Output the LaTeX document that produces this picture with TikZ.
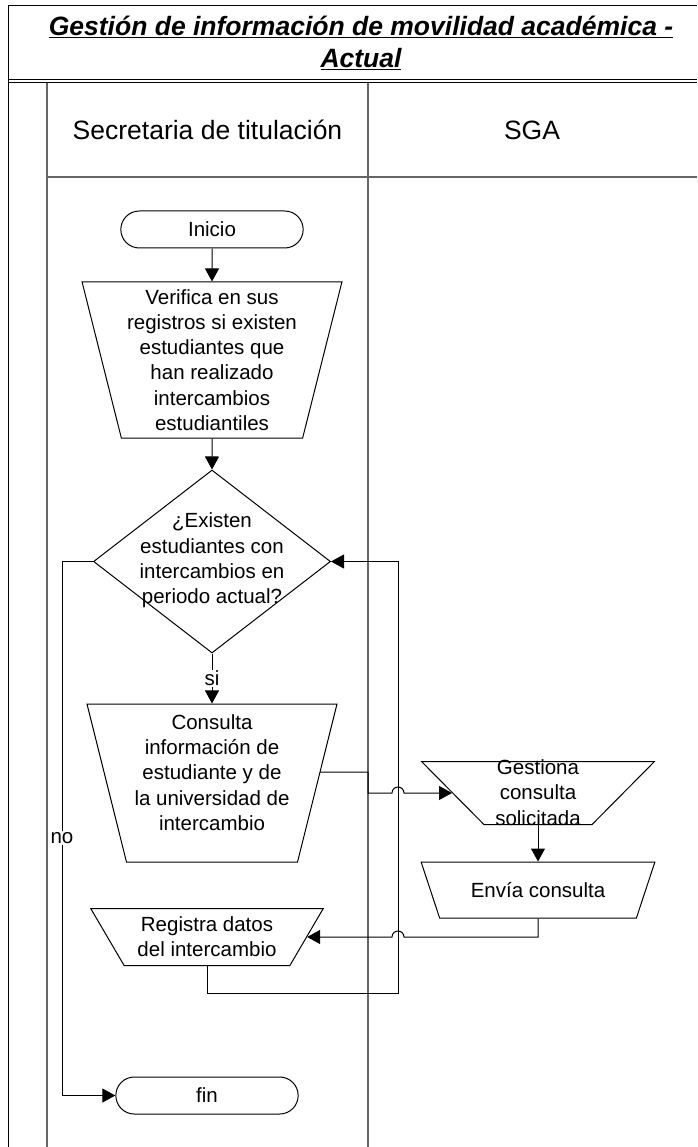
\documentclass[tikz,border=0pt]{standalone}
\usepackage{fontspec}
\setmainfont{Liberation Sans}
\usetikzlibrary{shapes,arrows.meta,positioning,calc}

\begin{document}
\begin{tikzpicture}[x=1pt,y=-1pt,
    texto/.style={font=\fontsize{20.5}{25.3}\selectfont,align=center},
    terminal/.style={draw,fill=white,rounded rectangle,texto,line width=1pt,minimum width=189,minimum height=37},
    proceso/.style={draw,fill=white,trapezium,shape border rotate=180,trapezium stretches=true,texto,line width=1pt,inner sep=2pt},
    pregunta/.style={draw,fill=white,diamond,line width=1pt,inner sep=0pt,minimum width=237,minimum height=183},
    flecha/.style={-{Triangle[length=13pt,width=14pt]},line width=1pt},
    carril/.style={draw=black!60,line width=1.5pt},
    etiqueta/.style={fill=white,texto,inner sep=1pt}]
      \useasboundingbox (0,0) rectangle (697,1147);

      % marco, titulo y carriles
      \draw[line width=1pt] (8,1147) -- (8,6) -- (697,6);
      \draw[line width=1pt] (8,80) -- (697,80);
      \draw[line width=1pt] (8,83) -- (697,83);
      \draw[carril] (47,83) -- (47,1147);
      \draw[carril] (368,83) -- (368,1147);
      \draw[carril] (47,177) -- (697,177);

      \node[font=\fontsize{26.5}{32}\selectfont\bfseries\itshape,align=center] (titulo) at (361,43)
        {\underline{Gestión de información de movilidad académica -}\\\underline{Actual}};
      \node[font=\fontsize{26.5}{32}\selectfont] (secretaria) at (207.5,130) {Secretaria de titulación};
      \node[font=\fontsize{26.5}{32}\selectfont] (sga) at (532,130) {SGA};

      \coordinate (ini) at (212,229.5);
      \coordinate (ver) at (212,360);
      \coordinate (dec) at (212,561.5);
      \coordinate (con) at (212,783);
      \coordinate (ges) at (538,793);
      \coordinate (env) at (538,890);
      \coordinate (reg) at (207,937);
      \coordinate (fi) at (207,1095.5);

      \node[terminal] (inicio) at (ini) {Inicio};
      \node[proceso,trapezium left angle=75.5,trapezium right angle=75.5,minimum width=260,minimum height=156] (verifica) at (ver)
        {Verifica en sus\\registros si existen\\estudiantes que\\han realizado\\intercambios\\estudiantiles};
      \node[pregunta] (decision) at (dec) {};
      \node[texto] (dectexto) at (212,560.5) {¿Existen\\estudiantes con\\intercambios en\\periodo actual?};
      \node[proceso,trapezium left angle=77,trapezium right angle=77,minimum width=250,minimum height=158] (consulta) at (con) {};
      \node[texto] (contexto) at (212,772.5) {Consulta\\información de\\estudiante y de\\la universidad de\\intercambio};
      \node[proceso,trapezium left angle=60,trapezium right angle=60,minimum width=233,minimum height=63] (gestiona) at (ges) {};
      \node[texto] (gestexto) at (538,792.5) {Gestiona\\consulta\\solicitada};
      \node[proceso,trapezium left angle=56,trapezium right angle=56,minimum width=234,minimum height=56] (envia) at (env) {Envía consulta};
      \node[proceso,trapezium left angle=57,trapezium right angle=57,minimum width=233,minimum height=57] (registra) at (reg)
        {Registra datos\\del intercambio};
      \node[terminal] (fin) at (fi) {fin};

      \draw[flecha] (inicio) -- (verifica);
      \draw[flecha] (verifica) -- (decision);
      \draw[flecha] (decision) -- node[etiqueta] (si) {si} (consulta);
      \draw[flecha] ($(consulta.east)+(2,-11)$) -| (368,793) -- (392,793)
        arc[start angle=180,end angle=360,radius=6] -- (gestiona);
      \draw[flecha] (gestiona) -- (envia);
      \draw[flecha] (envia) |- (404,937) arc[start angle=0,end angle=-180,radius=6] -- (registra);
      \draw[flecha] (registra) |- (398,993) |- (decision);
      \draw[flecha] (decision) -| (62,1095.5) -- (fin);
      \node[etiqueta] (no) at (62,838) {no};
    \end{tikzpicture}
\end{document}
